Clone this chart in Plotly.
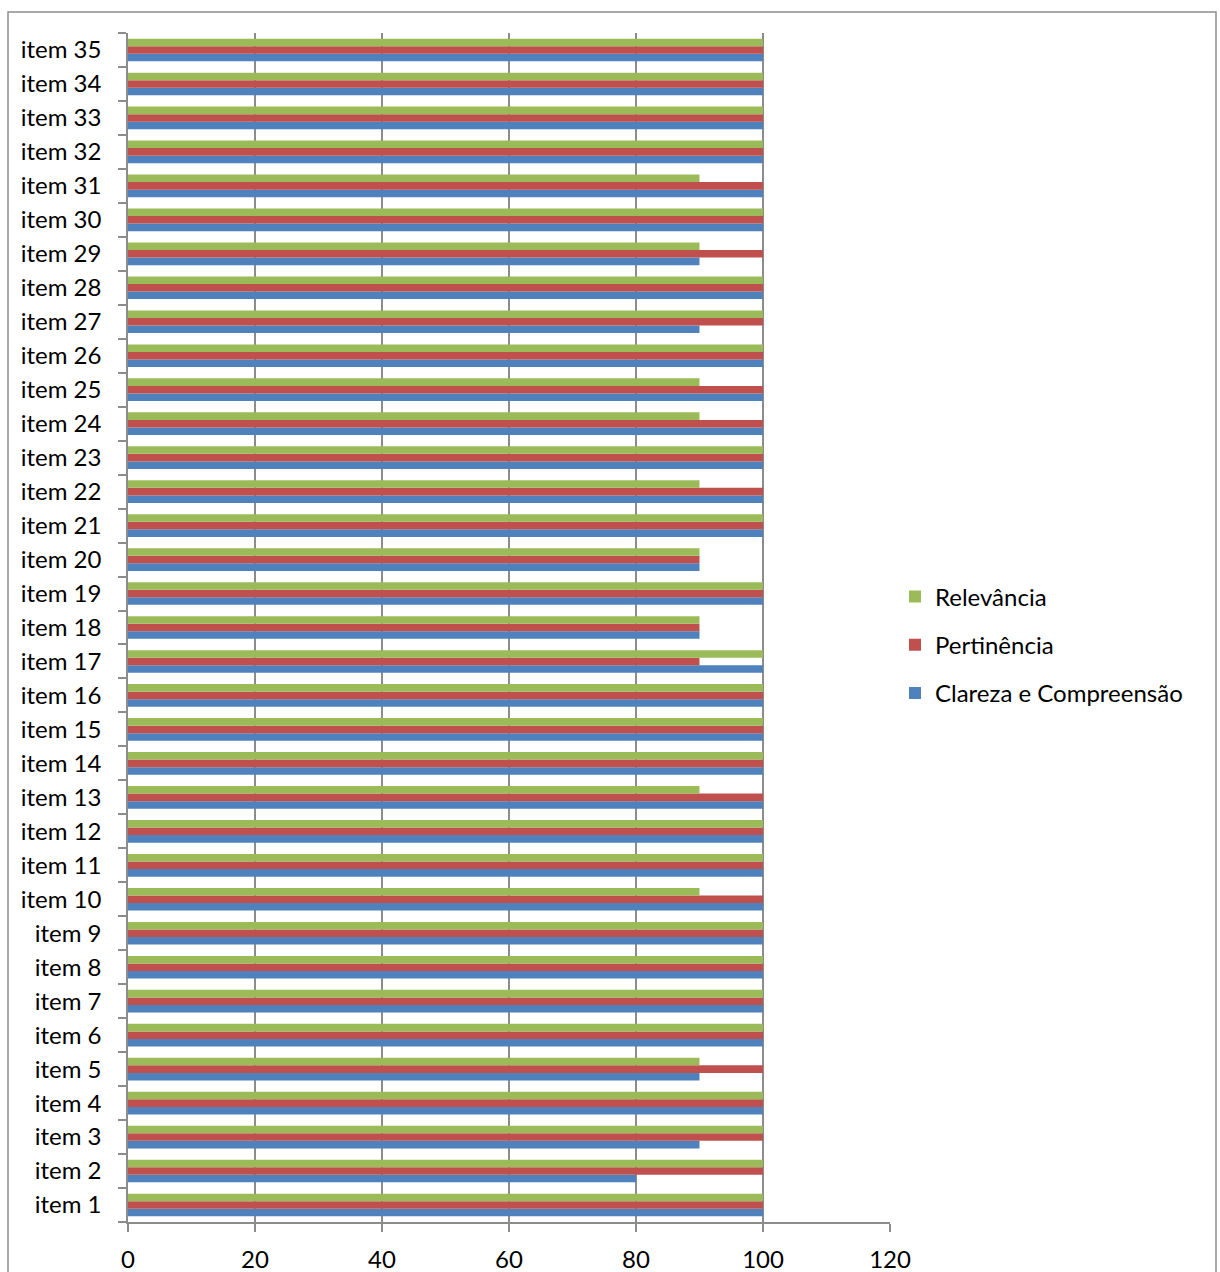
import plotly.graph_objects as go

items = [f"item {i}" for i in range(1, 36)]

# values listed item 1 .. item 35
clareza = [100, 80, 90, 100, 90, 100, 100, 100, 100, 100,
           100, 100, 100, 100, 100, 100, 100, 90, 100, 90,
           100, 100, 100, 100, 100, 100, 90, 100, 90, 100,
           100, 100, 100, 100, 100]
pertinencia = [100, 100, 100, 100, 100, 100, 100, 100, 100, 100,
               100, 100, 100, 100, 100, 100, 90, 90, 100, 90,
               100, 100, 100, 100, 100, 100, 100, 100, 100, 100,
               100, 100, 100, 100, 100]
relevancia = [100, 100, 100, 100, 90, 100, 100, 100, 100, 90,
              100, 100, 90, 100, 100, 100, 100, 90, 100, 90,
              100, 90, 100, 90, 90, 100, 100, 100, 90, 100,
              90, 100, 100, 100, 100]

series = [
    ("Clareza e Compreensão", clareza, "#4F81BD", 3),
    ("Pertinência", pertinencia, "#C0504D", 2),
    ("Relevância", relevancia, "#9BBB59", 1),
]

W, H = 1220, 1272
L, R, T, B = 128, 330, 33, 50
FONT = "Lato"
FS = 24
GRID = "#8C8C8C"

fig = go.Figure()
for name, vals, col, rank in series:
    fig.add_trace(go.Bar(
        y=items, x=vals, name=name, orientation="h",
        marker=dict(color=col, line=dict(width=0)),
        legendgroup=name, legendrank=rank,
    ))

pw = W - L - R
ph = H - T - B
fig.add_shape(type="rect", xref="paper", yref="paper",
              x0=(8 - L) / pw, x1=(1216 - L) / pw,
              y0=(H - B - 1290) / ph, y1=(H - B - 12) / ph,
              line=dict(color="#8C8C8C", width=1.5), fillcolor="rgba(0,0,0,0)",
              layer="below")

fig.update_layout(
    width=W, height=H,
    template="none",
    barmode="group", bargap=0.333, bargroupgap=0,
    paper_bgcolor="white", plot_bgcolor="white",
    margin=dict(l=L, r=R, t=T, b=B, autoexpand=False),
    font=dict(family=FONT, size=FS, color="black"),
    xaxis=dict(
        range=[0, 120], tickvals=[0, 20, 40, 60, 80, 100, 120],
        showgrid=True, gridcolor=GRID, gridwidth=1.5,
        showline=True, linecolor=GRID, linewidth=1.5,
        ticks="outside", ticklen=8, tickcolor=GRID, tickwidth=1.5,
        ticklabelstandoff=7, zeroline=False,
        tickfont=dict(family=FONT, size=FS, color="black"),
    ),
    yaxis=dict(
        categoryorder="array", categoryarray=items,
        showgrid=False, showline=True, linecolor=GRID, linewidth=1.5,
        ticks="outside", ticklen=8, tickcolor=GRID, tickwidth=1.5,
        tickson="boundaries", ticklabelstandoff=20, zeroline=False,
        tickfont=dict(family=FONT, size=FS, color="black"),
        range=[-0.5, 34.5],
    ),
    legend=dict(
        x=(895 - L) / pw, y=(H - B - 645) / ph, xanchor="left", yanchor="middle",
        traceorder="grouped", tracegroupgap=14,
        font=dict(family=FONT, size=FS, color="black"),
        bgcolor="rgba(0,0,0,0)", itemwidth=30,
    ),
)

fig.write_html("out.html", config={"displayModeBar": False},
               post_script="document.body.style.margin='0';")
